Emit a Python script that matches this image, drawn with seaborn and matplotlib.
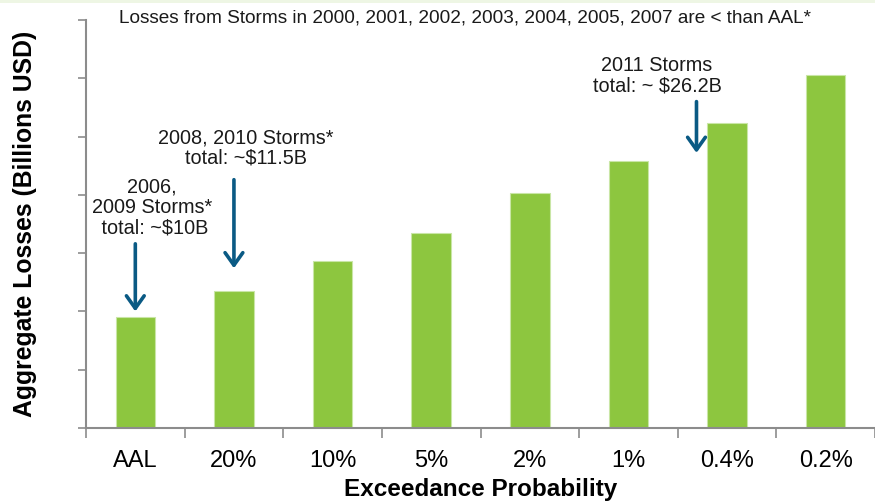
import matplotlib
matplotlib.use("Agg")
import matplotlib.pyplot as plt
from matplotlib.patches import Rectangle
from matplotlib.ticker import MultipleLocator, FixedLocator, NullFormatter
import seaborn as sns
import pandas as pd

# Exceedance probabilities and aggregate storm losses (billions USD)
categories = ["AAL", "20%", "10%", "5%", "2%", "1%", "0.4%", "0.2%"]
losses = [9.5, 11.75, 14.3, 16.7, 20.2, 22.9, 26.2, 30.3]

# Historical storm-year callouts: text, arrow tail/tip (category index, loss)
callout_texts = ["2006,\n2009 Storms*\n total: ~$10B",
                 "2008, 2010 Storms*\ntotal: ~$11.5B",
                 "2011 Storms\ntotal: ~ $26.2B"]
callout_text_pos = [(0.17, 18.9), (1.12, 24.0), (5.29, 30.2)]
arrow_x = [0.0, 1.0, 5.69]
arrow_tail = [15.8, 21.3, 28.0]
arrow_tip = [10.0, 13.7, 23.6]

title_text = "Losses from Storms in 2000, 2001, 2002, 2003, 2004, 2005, 2007 are < than AAL*"

BAR = "#8DC63F"
ARROW = "#0A5A84"
AXIS = "#8C8C8C"

sns.set_theme(style="white")
plt.rcParams["font.family"] = ["Liberation Sans", "DejaVu Sans"]

df = pd.DataFrame({"prob": categories, "loss": losses})

fig = plt.figure(figsize=(8.75, 5.04), dpi=100)
fig.patch.set_facecolor("white")
ax = fig.add_axes([86 / 875, 1 - 428 / 504, 1 - 86 / 875, (428 - 20) / 504])

sns.barplot(data=df, x="prob", y="loss", order=categories, color=BAR,
            saturation=1, width=0.4, edgecolor="#C9E6A6", linewidth=0.8, ax=ax)

ax.set_xlim(-0.5, len(categories) - 0.5)
ax.set_ylim(0, 35)

# y axis: tick marks only, no labels
ax.yaxis.set_major_locator(MultipleLocator(5))
ax.yaxis.set_major_formatter(NullFormatter())
ax.tick_params(axis="y", which="major", direction="out", length=6, width=1.2,
               color=AXIS, left=True)

# x axis: labels at category centers, tick marks on category boundaries
ax.xaxis.set_minor_locator(FixedLocator([i - 0.5 for i in range(len(categories) + 1)]))
ax.tick_params(axis="x", which="major", length=0, pad=16, labelsize=17,
               labelcolor="black")
ax.tick_params(axis="x", which="minor", direction="out", length=7, width=1.2,
               color=AXIS, bottom=True)

for side in ("top", "right"):
    ax.spines[side].set_visible(False)
for side in ("left", "bottom"):
    ax.spines[side].set_color(AXIS)
    ax.spines[side].set_linewidth(1.5)

ax.set_xlabel("Exceedance Probability", fontsize=17.5, fontweight="bold",
              labelpad=4, color="black")
ax.set_ylabel("Aggregate Losses (Billions USD)", fontsize=17.8,
              fontweight="bold", color="black")
ax.yaxis.label.set_va("center")
ax.yaxis.set_label_coords(-0.0773, 0.5)

for txt, (tx, ty) in zip(callout_texts, callout_text_pos):
    ax.text(tx, ty, txt, ha="center", va="center", fontsize=14.3,
            color="#1a1a1a", linespacing=1.1)

for x, y0, y1 in zip(arrow_x, arrow_tail, arrow_tip):
    ax.annotate("", xy=(x, y1), xytext=(x, y0),
                arrowprops=dict(arrowstyle="->,head_length=0.45,head_width=0.32",
                                lw=2.6, color=ARROW, mutation_scale=20,
                                shrinkA=0, shrinkB=0))

fig.text(465 / 875, 1 - 18 / 504, title_text, ha="center", va="center",
         fontsize=13.7, color="#1a1a1a")

# thin pale band along the top edge of the slide
fig.patches.append(Rectangle((0, 1 - 3 / 504), 1, 3 / 504, transform=fig.transFigure,
                             facecolor="#EEF6E4", edgecolor="none", zorder=0))

fig.savefig("out.png", dpi=100)
